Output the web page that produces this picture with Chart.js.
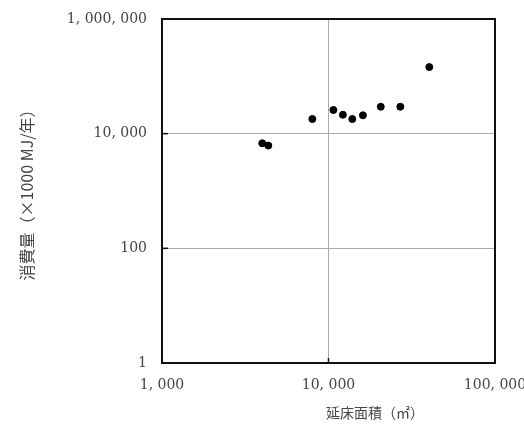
<!DOCTYPE html>
<html lang="ja">
<head>
  <meta charset="UTF-8">
  <script src="https://cdn.jsdelivr.net/npm/chart.js"></script>
  <title>延床面積と消費量</title>
  <style>
    body{margin: 0; background: #fff;}
    #wrap{width: 524px; height: 431px;}
  </style>
</head>
<body>
  <div id="wrap">
    <canvas id="myChart" width="524" height="431"></canvas>
  </div>
  <script>
    // 延床面積（㎡）
    const floorArea = [4000, 4350, 8000, 10700, 12200, 13900, 16100, 20600, 27000, 40300];
    // 消費量（×1000 MJ/年）
    const consumption = [6800, 6200, 18000, 25900, 21400, 18000, 20900, 29500, 29500, 145000];

    const xTicks = [1000, 10000, 100000];
    const yTicks = [1, 100, 10000, 1000000];

    const xTitle = '延床面積（㎡）';
    const yTitle = '消費量（×1000 MJ/年）';

    const points = floorArea.map(function(v, i){ return {x: v, y: consumption[i]}; });

    function fmt(v){
      return Number(v).toLocaleString('en-US').replace(/,/g, ', ');
    }

    // 枠と内向きの目盛り、横軸タイトル
    const frame = {
      id: 'frame',
      afterDraw: function(chart){
        const c = chart.ctx, a = chart.chartArea;
        const xs = chart.scales.x, ys = chart.scales.y;
        c.save();
        c.strokeStyle = '#111';
        c.lineWidth = 1.5;
        xTicks.slice(1, -1).forEach(function(t){
          const px = xs.getPixelForValue(t);
          c.beginPath(); c.moveTo(px, a.bottom); c.lineTo(px, a.bottom - 5); c.stroke();
        });
        yTicks.slice(1, -1).forEach(function(t){
          const py = ys.getPixelForValue(t);
          c.beginPath(); c.moveTo(a.left, py); c.lineTo(a.left + 6, py); c.stroke();
        });
        c.lineWidth = 2;
        c.strokeRect(a.left, a.top, a.right - a.left, a.bottom - a.top);
        c.fillStyle = '#444';
        c.font = '14px "Noto Sans CJK JP"';
        c.textAlign = 'center';
        c.textBaseline = 'middle';
        c.fillText(xTitle, a.left + (a.right - a.left) * 0.64, 413);
        c.restore();
      }
    };

    new Chart(document.getElementById('myChart'), {
      type: 'scatter',
      data: {
        datasets: [{
          data: points,
          backgroundColor: '#000',
          borderColor: '#000',
          pointRadius: 3.5,
          pointHoverRadius: 3.5
        }]
      },
      options: {
        responsive: false,
        animation: false,
        layout: {padding: {top: 19, right: 29, bottom: 0, left: 0}},
        plugins: {legend: {display: false}, tooltip: {enabled: false}},
        scales: {
          x: {
            type: 'logarithmic',
            min: 1000,
            max: 100000,
            afterBuildTicks: function(s){ s.ticks = xTicks.map(function(v){ return {value: v}; }); },
            afterFit: function(s){ s.height = 68; s.paddingLeft = 0; s.paddingRight = 0; },
            grid: {color: '#aaa', lineWidth: 1, drawTicks: false},
            border: {display: false},
            ticks: {
              padding: 14,
              color: '#444',
              font: {family: '"DejaVu Serif"', size: 14},
              maxRotation: 0,
              autoSkip: false,
              callback: fmt
            }
          },
          y: {
            type: 'logarithmic',
            min: 1,
            max: 1000000,
            afterBuildTicks: function(s){ s.ticks = yTicks.map(function(v){ return {value: v}; }); },
            afterFit: function(s){ s.width = 162; s.paddingTop = 0; s.paddingBottom = 0; },
            grid: {color: '#aaa', lineWidth: 1, drawTicks: false},
            border: {display: false},
            title: {
              display: true,
              text: yTitle,
              color: '#444',
              font: {family: '"Noto Sans CJK JP"', size: 16},
              padding: {top: 17, bottom: 0}
            },
            ticks: {
              padding: 15,
              color: '#444',
              font: {family: '"DejaVu Serif"', size: 14},
              autoSkip: false,
              callback: fmt
            }
          }
        }
      },
      plugins: [frame]
    });
  </script>
</body>
</html>
